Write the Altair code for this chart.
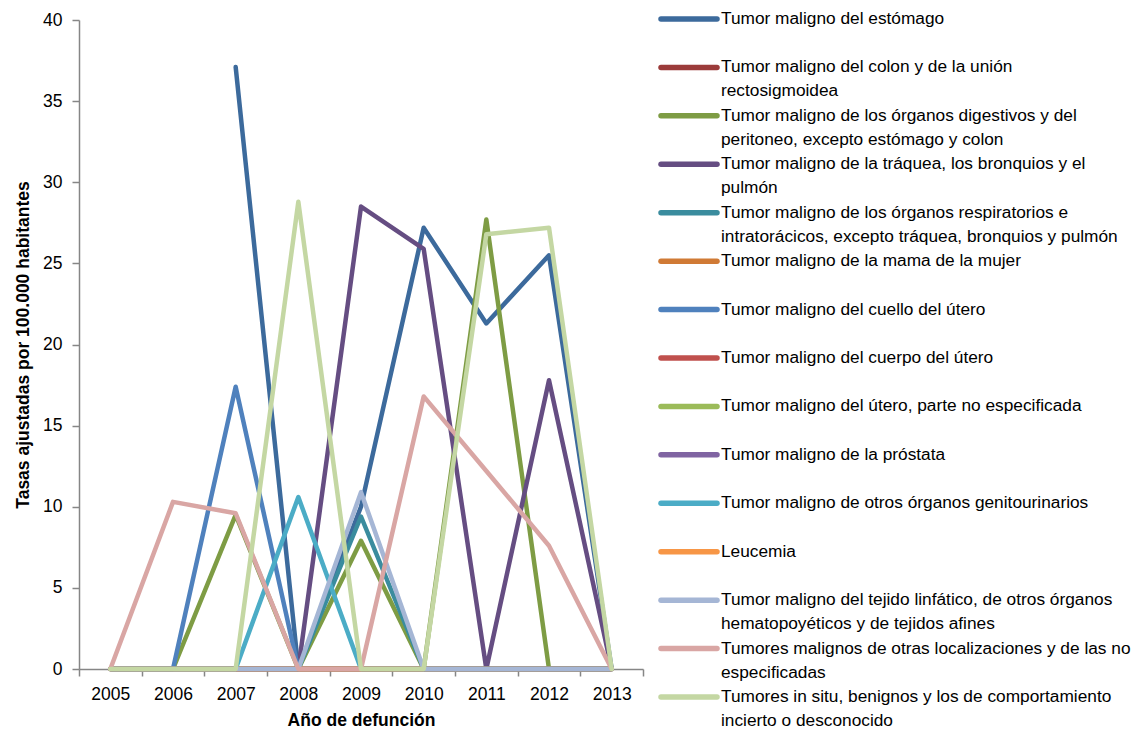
import altair as alt
import pandas as pd

FONT = "Liberation Sans"
FS = 17.5
LEG_FS = 17.3

years = ["2005", "2006", "2007", "2008", "2009", "2010", "2011", "2012", "2013"]

series = [
    "Tumor maligno del estómago",
    "Tumor maligno del colon y de la unión rectosigmoidea",
    "Tumor maligno de los órganos digestivos y del peritoneo, excepto estómago y colon",
    "Tumor maligno de la tráquea, los bronquios y el pulmón",
    "Tumor maligno de los órganos respiratorios e intratorácicos, excepto tráquea, bronquios y pulmón",
    "Tumor maligno de la mama de la mujer",
    "Tumor maligno del cuello del útero",
    "Tumor maligno del cuerpo del útero",
    "Tumor maligno del útero, parte no especificada",
    "Tumor maligno de la próstata",
    "Tumor maligno de otros órganos genitourinarios",
    "Leucemia",
    "Tumor maligno del tejido linfático, de otros órganos hematopoyéticos y de tejidos afines",
    "Tumores malignos de otras localizaciones y de las no especificadas",
    "Tumores in situ, benignos y los de comportamiento incierto o desconocido",
]

legend_labels = [
    "Tumor maligno del estómago",
    "Tumor maligno del colon y de la unión\nrectosigmoidea",
    "Tumor maligno de los órganos digestivos y del\nperitoneo, excepto estómago y colon",
    "Tumor maligno de la tráquea, los bronquios y el\npulmón",
    "Tumor maligno de los órganos respiratorios e\nintratorácicos, excepto tráquea, bronquios y pulmón",
    "Tumor maligno de la mama de la mujer",
    "Tumor maligno del cuello del útero",
    "Tumor maligno del cuerpo del útero",
    "Tumor maligno del útero, parte no especificada",
    "Tumor maligno de la próstata",
    "Tumor maligno de otros órganos genitourinarios",
    "Leucemia",
    "Tumor maligno del tejido linfático, de otros órganos\nhematopoyéticos y de tejidos afines",
    "Tumores malignos de otras localizaciones y de las no\nespecificadas",
    "Tumores in situ, benignos y los de comportamiento\nincierto o desconocido",
]

colors = [
    "#3C6A9C", "#9B3B3A", "#7E9C44", "#654D82", "#3A8C9E",
    "#D07A35", "#4F81BD", "#C0504D", "#9BBB59", "#8064A2",
    "#4BACC6", "#F79646", "#A5B6D5", "#D9A6A4", "#C4D7A3",
]

estomago        = [None, None, 37.1, 0, 10.0, 27.2, 21.3, 25.5, 0]
colon           = [0, 0, 0, 0, 0, 0, 0, 0, 0]
digestivos      = [0, 0, 9.5, 0, 7.9, 0, 27.7, 0, 0]
traquea         = [0, 0, 0, 0, 28.5, 25.9, 0, 17.8, 0]
respiratorios   = [0, 0, 0, 0, 9.4, 0, 0, 0, 0]
mama            = [0, 0, 0, 0, 0, 0, 0, 0, 0]
cuello          = [0, 0, 17.4, 0, 0, 0, 0, 0, 0]
cuerpo          = [0, 0, 0, 0, 0, 0, 0, 0, 0]
utero_ne        = [0, 0, 0, 0, 0, 0, 0, 0, 0]
prostata        = [0, 0, 0, 0, 0, 0, 0, 0, 0]
genitourinarios = [0, 0, 0, 10.6, 0, 0, 0, 0, 0]
leucemia        = [0, 0, 0, 0, 0, 0, 0, 0, 0]
linfatico       = [0, 0, 0, 0, 10.9, 0, 0, 0, 0]
otras           = [0, 10.3, 9.6, 0, 0, 16.8, 12.2, 7.6, 0]
in_situ         = [0, 0, 0, 28.8, 0, 0, 26.8, 27.2, 0]

values = [estomago, colon, digestivos, traquea, respiratorios, mama, cuello,
          cuerpo, utero_ne, prostata, genitourinarios, leucemia, linfatico,
          otras, in_situ]

rows = []
for name, vals in zip(series, values):
    for yr, v in zip(years, vals):
        rows.append({"serie": name, "anio": yr, "tasa": v})
df = pd.DataFrame(rows)

legend_df = pd.DataFrame({"serie": series, "label": legend_labels})

color_scale = alt.Scale(domain=series, range=colors)

lines = alt.Chart(df).mark_line(
    strokeWidth=4.5, strokeJoin="round", strokeCap="round"
).encode(
    x=alt.X(
        "anio:O",
        bandPosition=0.5,
        scale=alt.Scale(type="band", domain=years, paddingInner=0, paddingOuter=0),
        axis=alt.Axis(
            title="Año de defunción",
            labelAngle=0,
            tickBand="extent",
            tickSize=7,
            labelPadding=9,
            titlePadding=9,
        ),
    ),
    y=alt.Y(
        "tasa:Q",
        scale=alt.Scale(domain=[0, 40], nice=False),
        axis=alt.Axis(
            title="Tasas ajustadas por 100.000 habitantes",
            values=[0, 5, 10, 15, 20, 25, 30, 35, 40],
            grid=False,
            tickSize=7,
            labelPadding=10,
            titlePadding=10,
        ),
    ),
    color=alt.Color("serie:N", scale=color_scale, legend=None),
)

leg_x_scale = alt.Scale(domain=[0, 1], range=[582, 638])
leg_y = alt.Y(
    "serie:N",
    scale=alt.Scale(type="point", domain=series, range=[-1, 677], padding=0),
    axis=None,
)

leg_rule = alt.Chart(legend_df).mark_rule(strokeWidth=5.5, strokeCap="round").encode(
    x=alt.XDatum(0, type="quantitative", scale=leg_x_scale, axis=None),
    x2=alt.X2Datum(1),
    y=leg_y,
    color=alt.Color("serie:N", scale=color_scale, legend=None),
)

leg_text = alt.Chart(legend_df).mark_text(
    align="left",
    baseline="line-top",
    lineBreak="\n",
    lineHeight=24,
    dy=-12,
    dx=4,
    font=FONT,
    fontSize=LEG_FS,
    color="#000000",
).encode(
    x=alt.XDatum(1, type="quantitative", scale=leg_x_scale, axis=None),
    y=leg_y,
    text="label:N",
)

legend = alt.layer(leg_rule, leg_text)

chart = alt.layer(lines, legend).resolve_scale(
    x="independent", y="independent"
).properties(
    width=564,
    height=649,
    autosize=alt.AutoSizeParams(type="none"),
    padding={"left": 71, "top": 12, "right": 493, "bottom": 62},
).configure_view(
    stroke=None
).configure_axis(
    labelFont=FONT,
    titleFont=FONT,
    labelFontSize=FS,
    titleFontSize=FS,
    titleFontWeight="bold",
    labelColor="#000000",
    titleColor="#000000",
    domainColor="#868686",
    tickColor="#868686",
    domainWidth=1.5,
    tickWidth=1.5,
)

chart.save("out.html", embed_options={"renderer": "svg", "actions": False})
